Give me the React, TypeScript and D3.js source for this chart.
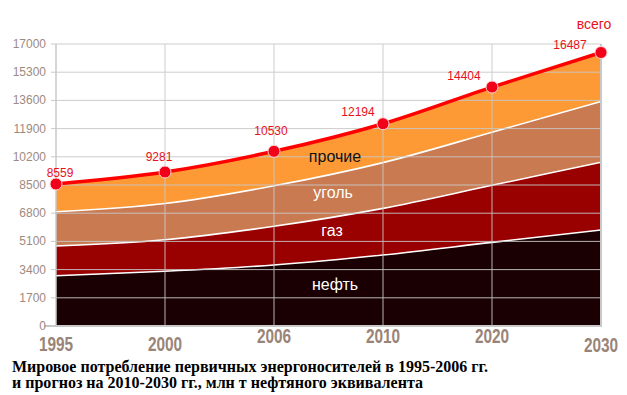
import { useMemo } from 'react'
import * as d3 from 'd3'

// годы и значения (млн т н.э.)
const years = ['1995', '2000', '2006', '2010', '2020', '2030']
const oil = [3030, 3300, 3680, 4280, 5040, 5790]
const gas = [1790, 1900, 2330, 2810, 3440, 4080]
const coal = [2070, 2180, 2440, 2760, 3200, 3670]
const other = [1669, 1901, 2080, 2344, 2724, 2947]
const total = [8559, 9281, 10530, 12194, 14404, 16487]
const yTicks = [0, 1700, 3400, 5100, 6800, 8500, 10200, 11900, 13600, 15300, 17000]

const seriesKeys = ['oil', 'gas', 'coal', 'other']
const seriesNames = ['нефть', 'газ', 'уголь', 'прочие']
const seriesColors = ['#1a0003', '#990000', '#c97a50', '#fd9a36']

// подписи значений: сдвиг относительно точки
const labelDx = [4, -6, -3, -25, -28, -31]
const labelDy = [-7, -11, -16, -7.5, -7, -3.5]
// подписи годов стоят "лесенкой"
const yearLabelY = [351, 351, 343, 343, 343, 352]

const W = 627
const H = 395
const margin = { top: 44, right: 26, bottom: 69, left: 56 }

export default function App() {
  const x = d3.scalePoint<string>().domain(years).range([margin.left, W - margin.right])
  const y = d3.scaleLinear().domain([0, 17000]).range([H - margin.bottom, margin.top])

  const rows = years.map((yr, i) => ({
    year: yr,
    oil: oil[i],
    gas: gas[i],
    coal: coal[i],
    other: other[i],
  }))

  const stacked = useMemo(() => d3.stack<any>().keys(seriesKeys)(rows), [])

  const area = d3
    .area<any>()
    .x((d) => x(d.data.year)!)
    .y0((d) => y(d[0]))
    .y1((d) => y(d[1]))
    .curve(d3.curveMonotoneX)

  const topLine = d3
    .line<any>()
    .x((d) => x(d.data.year)!)
    .y((d) => y(d[1]))
    .curve(d3.curveMonotoneX)

  const totalLine = d3
    .line<number>()
    .x((_, i) => x(years[i])!)
    .y((d) => y(d))
    .curve(d3.curveMonotoneX)

  const x0 = x(years[0])!
  const x1 = x(years[years.length - 1])!
  const yBottom = y(0)
  const lastX = x1
  const lastY = y(total[total.length - 1])

  const areaLabels = [
    { name: seriesNames[0], x: 335, y: 290, fill: '#ffffff' },
    { name: seriesNames[1], x: 332, y: 236, fill: '#ffffff' },
    { name: seriesNames[2], x: 333, y: 198, fill: '#ffffff' },
    { name: seriesNames[3], x: 335, y: 162, fill: '#111111' },
  ]

  return (
    <svg
      width={W}
      height={H}
      style={{ position: 'absolute', left: 0, top: 0, background: '#fff' }}
      fontFamily="Arial, 'Liberation Sans', sans-serif"
    >
      {/* области */}
      {stacked.map((s, i) => (
        <path key={s.key} d={area(s) || ''} fill={seriesColors[i]} />
      ))}
      {/* белые разделители */}
      {stacked.slice(0, 3).map((s) => (
        <path key={'l' + s.key} d={topLine(s) || ''} fill="none" stroke="#fff" strokeWidth={1.6} />
      ))}

      {/* сетка */}
      <g stroke="#c8c8c8" strokeWidth={1} opacity={0.9}>
        {yTicks.slice(1).map((t) => (
          <line key={'h' + t} x1={x0} x2={x1} y1={y(t)} y2={y(t)} />
        ))}
        {years.slice(1, -1).map((yr) => (
          <line key={'v' + yr} x1={x(yr)} x2={x(yr)} y1={margin.top} y2={yBottom} />
        ))}
      </g>

      {/* оси */}
      <g stroke="#c8c8c8">
        <line x1={x0} x2={x0} y1={margin.top} y2={yBottom} strokeWidth={1.5} />
        <line x1={x1} x2={x1} y1={margin.top} y2={yBottom} strokeWidth={2} />
        <line x1={44} x2={x1 + 1} y1={yBottom} y2={yBottom} strokeWidth={2} />
        {yTicks.slice(1).map((t) => (
          <line key={'t' + t} x1={51} x2={x0} y1={y(t)} y2={y(t)} strokeWidth={1} />
        ))}
      </g>
      <g fill="#9e8a80" fontSize={12} textAnchor="end">
        {yTicks.map((t) => (
          <text key={'yl' + t} x={46} y={y(t) + 4}>
            {t}
          </text>
        ))}
      </g>
      {/* узкий жирный шрифт годов: сжимаем по горизонтали */}
      <g fill="#9a8478" fontSize={20} fontWeight="bold" textAnchor="middle">
        {years.map((yr, i) => (
          <text key={'xl' + yr} transform={`translate(${x(yr)},${yearLabelY[i]}) scale(0.77,1)`}>
            {yr}
          </text>
        ))}
      </g>

      {/* подписи рядов */}
      {areaLabels.map((l) => (
        <text key={l.name} x={l.x} y={l.y} fill={l.fill} fontSize={16} textAnchor="middle">
          {l.name}
        </text>
      ))}

      {/* всего */}
      <path d={totalLine(total) || ''} fill="none" stroke="#ff0000" strokeWidth={3.5} />
      {total.map((v, i) => (
        <circle key={'c' + i} cx={x(years[i])} cy={y(v)} r={6} fill="#f2001a" stroke="#ffd0d0" strokeWidth={1} />
      ))}
      <g fill="#e8101a" fontSize={12} textAnchor="middle">
        {total.map((v, i) => (
          <text key={'v' + i} x={x(years[i])! + labelDx[i]} y={y(v) + labelDy[i]}>
            {v}
          </text>
        ))}
      </g>
      <text x={lastX - 7} y={lastY - 24} fill="#e8101a" fontSize={14} textAnchor="middle">
        всего
      </text>

      {/* заголовок */}
      <g fontFamily="'Liberation Serif', 'Times New Roman', serif" fontWeight="bold" fontSize={16} fill="#000">
        <text x={12} y={372} textLength={476} lengthAdjust="spacingAndGlyphs">
          Мировое потребление первичных энергоносителей в 1995-2006 гг.
        </text>
        <text x={12} y={388} textLength={411} lengthAdjust="spacingAndGlyphs">
          и прогноз на 2010-2030 гг., млн т нефтяного эквивалента
        </text>
      </g>
    </svg>
  )
}
